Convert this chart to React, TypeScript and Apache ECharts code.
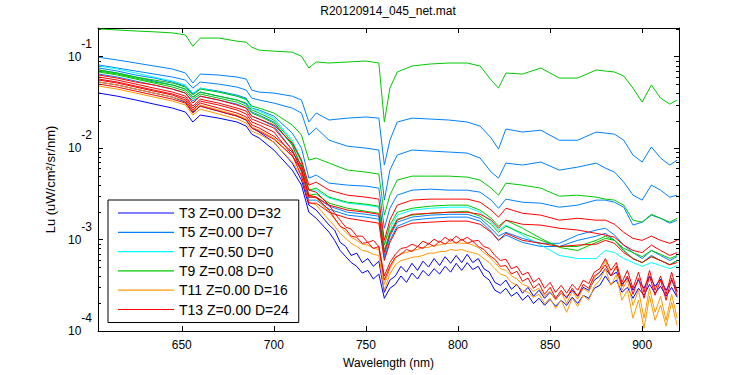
import React, { useEffect, useRef } from 'react';
import * as echarts from 'echarts';

const FONT = '"Liberation Sans", Arial, Helvetica, sans-serif';

const TITLE = 'R20120914_045_net.mat';
const X_NAME = 'Wavelength (nm)';
const Y_NAME = 'Lu (uW/cm²/sr/nm)';
const X_MIN = 604.5;
const X_MAX = 920;
const Y_MIN = 0.0001;
const Y_MAX = 0.206;

// coarse sampling (smooth spectra)
const WAVELENGTH = [605, 615, 625, 635, 645, 652, 656, 660, 670, 680, 685, 688, 692, 700, 710, 715, 719, 723, 730, 740, 750, 757, 760, 763, 767, 775, 785, 795, 805, 812, 818, 822, 826, 835, 845, 855, 865, 875, 880, 885, 890, 895, 900, 905, 910, 915, 919];
// finer sampling (noisy, deep spectra)
const WAVELENGTH_FINE = [605, 615, 625, 635, 645, 652, 656, 660, 670, 680, 685, 688, 692, 700, 710, 715, 719, 723, 730, 733, 736, 739, 742, 745, 748, 751, 754, 757, 760, 763, 766, 769, 772, 775, 778, 781, 784, 787, 790, 793, 796, 799, 802, 805, 808, 811, 814, 817, 820, 823, 826, 829, 832, 835, 838, 841, 844, 847, 850, 853, 856, 859, 862, 865, 868, 871, 874, 877, 880, 883, 886, 889, 892, 895, 898, 901, 904, 907, 910, 913, 916, 919];

// T3 (blue) - fine sampling
const T3_A = [0.0528, 0.049, 0.0442, 0.04, 0.0361, 0.0319, 0.0248, 0.0288, 0.0254, 0.0224, 0.0203, 0.0166, 0.015, 0.0116, 0.00686, 0.00447, 0.00238, 0.0021, 0.00144,
  0.00127, 0.00093, 0.00084, 0.00067, 0.00071, 0.00056, 0.00062, 0.00051, 0.00058, 0.000265, 0.00036, 0.0004, 0.00051, 0.00044, 0.00055, 0.00046, 0.00058, 0.0005, 0.00062, 0.00052, 0.00065, 0.00055, 0.00067, 0.00056, 0.00069, 0.00056, 0.00062, 0.00048, 0.00044, 0.00034, 0.000316, 0.00036, 0.000286, 0.000324, 0.000259, 0.0003, 0.00024, 0.000279, 0.000228, 0.000265, 0.000222, 0.000259, 0.000234, 0.000279, 0.00024, 0.0003, 0.000279, 0.00036, 0.0004, 0.00048, 0.0004, 0.00044, 0.000324, 0.00038, 0.000279, 0.00036, 0.000293, 0.0004, 0.000308, 0.00037, 0.000279, 0.00036, 0.000272];
const T3_B = [0.04, 0.037, 0.0336, 0.0303, 0.0274, 0.0248, 0.0193, 0.023, 0.0213, 0.0193, 0.0174, 0.0142, 0.0129, 0.00953, 0.00575, 0.00394, 0.00199, 0.00171, 0.0012,
  0.00098, 0.00076, 0.00065, 0.00056, 0.00051, 0.00043, 0.00046, 0.00037, 0.00042, 0.000228, 0.000293, 0.000324, 0.0004, 0.00034, 0.00043, 0.00037, 0.00046, 0.0004, 0.00048, 0.00042, 0.00051, 0.00044, 0.00055, 0.00046, 0.00056, 0.00047, 0.00051, 0.0004, 0.00036, 0.000279, 0.000259, 0.000293, 0.00024, 0.000265, 0.000217, 0.000246, 0.0002, 0.000228, 0.000191, 0.000222, 0.000186, 0.000217, 0.000191, 0.000234, 0.0002, 0.000246, 0.000228, 0.000293, 0.000316, 0.0004, 0.000324, 0.00036, 0.000265, 0.0003, 0.000228, 0.000293, 0.000246, 0.000324, 0.000259, 0.000308, 0.00024, 0.0003, 0.000234];

// T5 (light blue)
const T5_A = [0.0985, 0.092, 0.0853, 0.0791, 0.0733, 0.0663, 0.0515, 0.0646, 0.063, 0.0599, 0.0569, 0.0431, 0.041, 0.04, 0.037, 0.0336, 0.0193, 0.0242, 0.0203, 0.0213, 0.0219, 0.0213, 0.00653, 0.0122, 0.0193, 0.0213, 0.0208, 0.0203, 0.0193, 0.0174, 0.0129, 0.00976, 0.0162, 0.015, 0.0157, 0.0122, 0.0122, 0.015, 0.0146, 0.0142, 0.0122, 0.0084, 0.00704, 0.0103, 0.00779, 0.00653, 0.0074];
const T5_B = [0.0811, 0.0752, 0.0697, 0.0646, 0.0599, 0.0555, 0.0453, 0.0528, 0.0502, 0.0465, 0.0431, 0.0352, 0.0336, 0.0311, 0.0274, 0.0242, 0.0139, 0.0166, 0.0122, 0.0105, 0.01, 0.00953, 0.0027, 0.00575, 0.0084, 0.00953, 0.00929, 0.00906, 0.00883, 0.00779, 0.00547, 0.0047, 0.00686, 0.00653, 0.00704, 0.00575, 0.0062, 0.00686, 0.00605, 0.00547, 0.00425, 0.00306, 0.0027, 0.00394, 0.00347, 0.00291, 0.00306];
const T5_C = [0.0752, 0.0697, 0.063, 0.0584, 0.0528, 0.0477, 0.039, 0.0453, 0.042, 0.038, 0.0352, 0.0274, 0.0261, 0.0224, 0.0146, 0.01, 0.0047, 0.00507, 0.00414, 0.00394, 0.00384, 0.00365, 0.00133, 0.0022, 0.00306, 0.00347, 0.00356, 0.00347, 0.00347, 0.0033, 0.0027, 0.0022, 0.00277, 0.00256, 0.0025, 0.00226, 0.00238, 0.0027, 0.0027, 0.00256, 0.00226, 0.00144, 0.00155, 0.00185, 0.00171, 0.00151, 0.00163];
const T5_D = [0.0715, 0.0663, 0.0599, 0.0541, 0.049, 0.0442, 0.0361, 0.041, 0.037, 0.0336, 0.0303, 0.0248, 0.023, 0.0193, 0.0108, 0.00605, 0.00291, 0.00291, 0.00232, 0.00199, 0.00189, 0.0018, 0.00067, 0.00109, 0.00155, 0.00176, 0.00185, 0.00189, 0.00189, 0.00171, 0.00133, 0.00109, 0.0012, 0.00103, 0.00091, 0.00091, 0.00112, 0.00127, 0.00133, 0.00112, 0.00087, 0.00072, 0.00062, 0.00076, 0.00067, 0.00059, 0.00065];
const T5_E = [0.0646, 0.0599, 0.0541, 0.049, 0.0442, 0.04, 0.0327, 0.037, 0.0336, 0.0303, 0.0274, 0.0224, 0.0208, 0.0174, 0.00953, 0.00547, 0.0027, 0.0027, 0.00215, 0.00185, 0.00176, 0.00167, 0.00062, 0.00098, 0.0014, 0.00163, 0.00171, 0.00176, 0.00176, 0.00159, 0.00123, 0.00098, 0.00112, 0.00093, 0.00084, 0.00084, 0.00098, 0.00109, 0.00117, 0.00098, 0.00076, 0.00062, 0.00056, 0.00067, 0.00059, 0.00053, 0.00059];

// T7 (cyan)
const T7_A = [0.0791, 0.0733, 0.0663, 0.0599, 0.0541, 0.049, 0.04, 0.0453, 0.041, 0.037, 0.0336, 0.0274, 0.0254, 0.0213, 0.0122, 0.0074, 0.00347, 0.00347, 0.00284, 0.0025, 0.00238, 0.00226, 0.00087, 0.00133, 0.00185, 0.0021, 0.0022, 0.00226, 0.00226, 0.00199, 0.00155, 0.00127, 0.00144, 0.00112, 0.00087, 0.00067, 0.00062, 0.00062, 0.00076, 0.00072, 0.00062, 0.00056, 0.00051, 0.00056, 0.00052, 0.00048, 0.00052];

// T9 (green)
const T9_A = [0.201, 0.196, 0.191, 0.187, 0.182, 0.173, 0.13, 0.16, 0.16, 0.148, 0.144, 0.127, 0.118, 0.115, 0.112, 0.101, 0.0752, 0.0875, 0.0853, 0.0875, 0.0897, 0.0853, 0.0193, 0.0453, 0.068, 0.0791, 0.0832, 0.0853, 0.0853, 0.0791, 0.0555, 0.0453, 0.0663, 0.0646, 0.0752, 0.0584, 0.0584, 0.0715, 0.0697, 0.068, 0.0614, 0.0453, 0.0319, 0.049, 0.0352, 0.0303, 0.0336];
const T9_B = [0.0715, 0.0663, 0.0599, 0.0555, 0.0515, 0.0465, 0.038, 0.0442, 0.041, 0.037, 0.0343, 0.0288, 0.0274, 0.0242, 0.0179, 0.0139, 0.0074, 0.00779, 0.00686, 0.00575, 0.00547, 0.0052, 0.00185, 0.00306, 0.00447, 0.00494, 0.00494, 0.00494, 0.00482, 0.00447, 0.00365, 0.00306, 0.00414, 0.00394, 0.00365, 0.00298, 0.00306, 0.00291, 0.00277, 0.0027, 0.00238, 0.00163, 0.00155, 0.00189, 0.00171, 0.00155, 0.00171];
const T9_C = [0.0697, 0.0646, 0.0584, 0.0528, 0.049, 0.0442, 0.0361, 0.041, 0.037, 0.0336, 0.0311, 0.0261, 0.0242, 0.0203, 0.0116, 0.00704, 0.00347, 0.00365, 0.00291, 0.00256, 0.00244, 0.00232, 0.00087, 0.00144, 0.00199, 0.0022, 0.00232, 0.00238, 0.00238, 0.0021, 0.00171, 0.0014, 0.00163, 0.00133, 0.00103, 0.00082, 0.00076, 0.00093, 0.00103, 0.00098, 0.0008, 0.00072, 0.00065, 0.00076, 0.00069, 0.00062, 0.00067];
const T9_D = [0.068, 0.063, 0.0569, 0.0515, 0.0465, 0.042, 0.0343, 0.039, 0.0352, 0.0319, 0.0288, 0.0242, 0.0224, 0.0188, 0.0108, 0.0062, 0.00306, 0.00314, 0.0025, 0.0022, 0.00204, 0.00194, 0.00076, 0.0012, 0.00167, 0.00185, 0.00194, 0.00199, 0.00204, 0.0018, 0.00147, 0.0012, 0.0014, 0.00117, 0.00098, 0.00084, 0.00084, 0.00098, 0.00109, 0.00098, 0.00076, 0.00062, 0.00056, 0.00065, 0.00059, 0.00053, 0.00059];

// T11 (orange) - fine sampling
const T11_A = [0.0528, 0.049, 0.0442, 0.04, 0.0361, 0.0327, 0.0254, 0.0296, 0.0261, 0.023, 0.0208, 0.017, 0.0157, 0.0129, 0.00819, 0.00575, 0.00298, 0.00284, 0.00199,
  0.00167, 0.0014, 0.0012, 0.00106, 0.00098, 0.00089, 0.00087, 0.0008, 0.00078, 0.000324, 0.00048, 0.00062, 0.00071, 0.00072, 0.00076, 0.00078, 0.00082, 0.00082, 0.00087, 0.00087, 0.00091, 0.00091, 0.00093, 0.00091, 0.00091, 0.00087, 0.00082, 0.00072, 0.00065, 0.00056, 0.00048, 0.00046, 0.0004, 0.00037, 0.000324, 0.000308, 0.000272, 0.000293, 0.00024, 0.000272, 0.000217, 0.000265, 0.0002, 0.000272, 0.000222, 0.000293, 0.000265, 0.00038, 0.00044, 0.00059, 0.0004, 0.00051, 0.000279, 0.00036, 0.000191, 0.000279, 0.000138, 0.000293, 0.00016, 0.00024, 0.000131, 0.000252, 0.000138];
const T11_B = [0.0477, 0.0442, 0.04, 0.0361, 0.0327, 0.0296, 0.023, 0.0267, 0.0236, 0.0208, 0.0188, 0.0153, 0.0142, 0.0116, 0.00704, 0.00494, 0.00256, 0.00238, 0.00163,
  0.0014, 0.00117, 0.00103, 0.00091, 0.00084, 0.00076, 0.00074, 0.00069, 0.00067, 0.000279, 0.00042, 0.00053, 0.00059, 0.00061, 0.00064, 0.00065, 0.00067, 0.00071, 0.00071, 0.00074, 0.00074, 0.00078, 0.00076, 0.00078, 0.00074, 0.00072, 0.00069, 0.00062, 0.00056, 0.00048, 0.00042, 0.0004, 0.00034, 0.000316, 0.000279, 0.000265, 0.000234, 0.000252, 0.0002, 0.000228, 0.000177, 0.000217, 0.00016, 0.000228, 0.000186, 0.000246, 0.000217, 0.000308, 0.00036, 0.00048, 0.000316, 0.00041, 0.000217, 0.000279, 0.000138, 0.000217, 0.000107, 0.00024, 0.000131, 0.000191, 0.000113, 0.000206, 0.000115];

// T13 (red)
const T13_A = [0.063, 0.0584, 0.0528, 0.049, 0.0442, 0.04, 0.0311, 0.037, 0.0336, 0.0296, 0.0274, 0.0224, 0.0208, 0.0179, 0.0113, 0.0074, 0.00394, 0.00425, 0.00347, 0.00306, 0.00291, 0.00277, 0.00098, 0.00163, 0.00238, 0.0027, 0.00277, 0.00277, 0.00277, 0.00256, 0.0021, 0.00176, 0.0022, 0.00194, 0.00185, 0.00163, 0.00171, 0.00163, 0.00163, 0.00147, 0.0012, 0.00103, 0.00098, 0.00109, 0.00098, 0.00091, 0.00098];
const T13_B = [0.0599, 0.0555, 0.0502, 0.0453, 0.041, 0.037, 0.0288, 0.0343, 0.0311, 0.0274, 0.0254, 0.0208, 0.0193, 0.0166, 0.00953, 0.00575, 0.00291, 0.00291, 0.00238, 0.0021, 0.00199, 0.00189, 0.00072, 0.00114, 0.00163, 0.00189, 0.00194, 0.00199, 0.00199, 0.00189, 0.00163, 0.00133, 0.00163, 0.00147, 0.00144, 0.00133, 0.00127, 0.00117, 0.00112, 0.00106, 0.00087, 0.00076, 0.00072, 0.00087, 0.00076, 0.00067, 0.00072];
const T13_C = [0.0569, 0.0528, 0.0477, 0.0431, 0.039, 0.0352, 0.0274, 0.0327, 0.0296, 0.0261, 0.0236, 0.0193, 0.0179, 0.015, 0.0084, 0.00494, 0.0025, 0.0025, 0.00199, 0.00171, 0.00159, 0.00151, 0.00059, 0.00093, 0.00133, 0.00151, 0.00155, 0.00159, 0.00159, 0.00147, 0.0012, 0.00098, 0.00117, 0.00098, 0.00091, 0.00084, 0.00087, 0.00089, 0.00098, 0.00091, 0.00072, 0.00062, 0.00056, 0.00065, 0.00059, 0.00053, 0.00056];
// fine sampling
const T13_D = [0.0555, 0.0515, 0.0465, 0.042, 0.038, 0.0336, 0.0261, 0.0311, 0.0274, 0.0242, 0.0219, 0.0179, 0.0166, 0.0135, 0.00906, 0.00653, 0.00347, 0.0033, 0.00238,
  0.00194, 0.00163, 0.00137, 0.0013, 0.00109, 0.00109, 0.00093, 0.00098, 0.00084, 0.0004, 0.00056, 0.00069, 0.0008, 0.00082, 0.00089, 0.00084, 0.00096, 0.00089, 0.00101, 0.00093, 0.00106, 0.00096, 0.00109, 0.00098, 0.00106, 0.00096, 0.00098, 0.00084, 0.0008, 0.00067, 0.00059, 0.00061, 0.00048, 0.00051, 0.00041, 0.00044, 0.00034, 0.00038, 0.000293, 0.00034, 0.000265, 0.000316, 0.000259, 0.000324, 0.000279, 0.00036, 0.00033, 0.00044, 0.00048, 0.00062, 0.00046, 0.00056, 0.00034, 0.00046, 0.000293, 0.00044, 0.000265, 0.00046, 0.000279, 0.0004, 0.000252, 0.00044, 0.000265];
const T13_E = [0.0502, 0.0465, 0.042, 0.038, 0.0343, 0.0311, 0.0242, 0.0288, 0.0254, 0.0224, 0.0203, 0.0166, 0.0153, 0.0125, 0.00819, 0.00575, 0.00306, 0.00291, 0.0021,
  0.00171, 0.0014, 0.0013, 0.00109, 0.00106, 0.00091, 0.00093, 0.0008, 0.00084, 0.00036, 0.00051, 0.00064, 0.00069, 0.00078, 0.00074, 0.00084, 0.0008, 0.00091, 0.00084, 0.00096, 0.00089, 0.00101, 0.00091, 0.00101, 0.00091, 0.00096, 0.00084, 0.00078, 0.00067, 0.00061, 0.00051, 0.00052, 0.00042, 0.00045, 0.00035, 0.00038, 0.000293, 0.00033, 0.000252, 0.0003, 0.000228, 0.000279, 0.000228, 0.000293, 0.00024, 0.000324, 0.000293, 0.0004, 0.00044, 0.00053, 0.0004, 0.00051, 0.000308, 0.0004, 0.000252, 0.00038, 0.000228, 0.0004, 0.000246, 0.00036, 0.000217, 0.00038, 0.00024];

const MINOR_TICKS = [0.0002, 0.0003, 0.0004, 0.0005, 0.0006, 0.0007, 0.0008, 0.0009, 0.002, 0.003, 0.004, 0.005, 0.006, 0.007, 0.008, 0.009, 0.02, 0.03, 0.04, 0.05, 0.06, 0.07, 0.08, 0.09, 0.2];

const GROUPS = [
  { name: 'T3 Z=0.00 D=32', color: '#0000ff', lines: [[WAVELENGTH_FINE, T3_A], [WAVELENGTH_FINE, T3_B]] },
  { name: 'T5 Z=0.00 D=7', color: '#0080ff', lines: [[WAVELENGTH, T5_A], [WAVELENGTH, T5_B], [WAVELENGTH, T5_C], [WAVELENGTH, T5_D], [WAVELENGTH, T5_E]] },
  { name: 'T7 Z=0.50 D=0', color: '#00ffff', lines: [[WAVELENGTH, T7_A]] },
  { name: 'T9 Z=0.08 D=0', color: '#00c800', lines: [[WAVELENGTH, T9_A], [WAVELENGTH, T9_B], [WAVELENGTH, T9_C], [WAVELENGTH, T9_D]] },
  { name: 'T11 Z=0.00 D=16', color: '#ff9900', lines: [[WAVELENGTH_FINE, T11_A], [WAVELENGTH_FINE, T11_B]] },
  { name: 'T13 Z=0.00 D=24', color: '#ff0000', lines: [[WAVELENGTH, T13_A], [WAVELENGTH, T13_B], [WAVELENGTH, T13_C], [WAVELENGTH_FINE, T13_D], [WAVELENGTH_FINE, T13_E]] },
];

export default function App() {
  const ref = useRef<HTMLDivElement>(null);
  useEffect(() => {
    if (!ref.current) return;
    const chart = echarts.init(ref.current, null, { renderer: 'svg' });
    const lineSeries: any[] = [];
    GROUPS.forEach((g) => {
      g.lines.forEach(([xs, vals]) => {
        lineSeries.push({
          type: 'line',
          name: g.name,
          data: (xs as number[]).map((w, i) => [w, (vals as number[])[i]]),
          symbol: 'none',
          showSymbol: false,
          color: g.color,
          lineStyle: { color: g.color, width: 1 },
          xAxisIndex: 0,
          yAxisIndex: 0,
          clip: true,
        });
      });
    });
    const tickStyle = { color: '#000', width: 1 };
    const option: any = {
      animation: false,
      backgroundColor: '#fff',
      textStyle: { fontFamily: FONT },
      graphic: [
        {
          type: 'text',
          x: 388,
          y: 11,
          style: { text: TITLE, fontSize: 12, fontFamily: FONT, fill: '#000', align: 'center', verticalAlign: 'middle' },
        },
      ],
      grid: { left: 98, right: 71, top: 28, bottom: 44, containLabel: false },
      xAxis: [
        {
          type: 'value',
          min: X_MIN,
          max: X_MAX,
          position: 'bottom',
          name: X_NAME,
          nameLocation: 'middle',
          nameGap: 26,
          nameTextStyle: { fontSize: 12, color: '#000', fontFamily: FONT },
          axisLine: { show: true, lineStyle: { color: '#000', width: 1 } },
          axisTick: { show: true, inside: true, length: 5, lineStyle: tickStyle },
          axisLabel: { show: true, color: '#000', fontSize: 12, fontFamily: FONT, margin: 8, showMinLabel: false, showMaxLabel: false },
          splitLine: { show: false },
        },
        {
          type: 'value',
          min: X_MIN,
          max: X_MAX,
          position: 'top',
          axisLine: { show: true, lineStyle: { color: '#000', width: 1 } },
          axisTick: { show: true, inside: true, length: 5, lineStyle: tickStyle },
          axisLabel: { show: false },
          splitLine: { show: false },
        },
      ],
      yAxis: [
        {
          type: 'log',
          logBase: 10,
          min: Y_MIN,
          max: Y_MAX,
          position: 'left',
          name: Y_NAME,
          nameLocation: 'middle',
          nameGap: 40,
          nameTextStyle: { fontSize: 13, color: '#000', fontFamily: FONT },
          axisLine: { show: true, lineStyle: { color: '#000', width: 1 } },
          axisTick: { show: true, inside: true, length: 5, lineStyle: tickStyle },
          axisLabel: {
            show: true,
            margin: 6,
            formatter: (v: number) => {
              const l = Math.log10(v);
              const e = Math.round(l);
              if (Math.abs(l - e) > 1e-6) return '';
              return `{b|10}{s|${e}}`;
            },
            rich: {
              b: { fontSize: 12, color: '#000', fontFamily: FONT },
              s: { fontSize: 12, color: '#000', fontFamily: FONT, padding: [0, 0, 26, 0] },
            },
          },
          splitLine: { show: false },
        },
        {
          type: 'log',
          logBase: 10,
          min: Y_MIN,
          max: Y_MAX,
          position: 'right',
          axisLine: { show: true, lineStyle: { color: '#000', width: 1 } },
          axisTick: { show: true, inside: true, length: 5, lineStyle: tickStyle },
          axisLabel: { show: false },
          splitLine: { show: false },
        },
      ],
      legend: {
        data: GROUPS.map((g) => g.name),
        orient: 'vertical',
        left: 108,
        top: 200,
        icon: 'path://M0,0H56V1.2H0Z',
        itemWidth: 56,
        itemHeight: 14,
        itemGap: 5.3,
        padding: [6, 10, 6, 10],
        borderColor: '#000',
        borderWidth: 1,
        borderRadius: 0,
        backgroundColor: '#fff',
        selectedMode: false,
        textStyle: { fontSize: 14, color: '#000', fontFamily: FONT },
      },
      series: [
        ...lineSeries,
        {
          type: 'custom',
          name: 'minorTicks',
          xAxisIndex: 0,
          yAxisIndex: 0,
          silent: true,
          clip: false,
          data: MINOR_TICKS.map((v) => [X_MIN, v]),
          renderItem: (params: any, api: any) => {
            const cs = params.coordSys;
            const y = Math.round(api.coord([X_MIN, api.value(1)])[1]) + 0.5;
            const st = { stroke: '#000', lineWidth: 1 };
            return {
              type: 'group',
              children: [
                { type: 'line', shape: { x1: cs.x, y1: y, x2: cs.x + 3, y2: y }, style: st },
                { type: 'line', shape: { x1: cs.x + cs.width - 3, y1: y, x2: cs.x + cs.width, y2: y }, style: st },
              ],
            };
          },
        },
      ],
    };
    chart.setOption(option);
    return () => chart.dispose();
  }, []);
  return <div ref={ref} style={{ position: 'fixed', left: 0, top: 0, width: 750, height: 375 }} />;
}
